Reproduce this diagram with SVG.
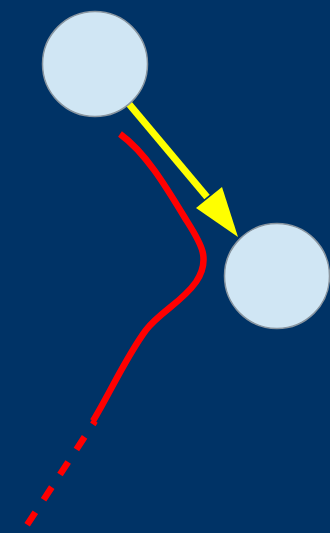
<svg xmlns="http://www.w3.org/2000/svg" width="330" height="533" viewBox="0 0 330 533">
  <style>
    .node { fill: #d0e6f4; stroke: #8a96a0; stroke-width: 1.5; }
    .red { fill: none; stroke: #ff0000; stroke-width: 6.5; }
  </style>
  <rect width="330" height="533" fill="#003366"/>
  <g id="connectors">
    <line x1="129" y1="104" x2="207" y2="197" stroke="#ffff00" stroke-width="7"/>
    <polygon points="238,237 196,208 222,187" fill="#ffff00"/>
    <path class="red" d="M120,134 C145,152 165,185 185,218 C200,242 212,258 196,282 C182,302 160,312 146,330 C126,357 110,393 93,421"/>
    <path class="red" d="M95,421 L27,525" stroke-dasharray="15 15" stroke-dashoffset="11"/>
  </g>
  <g id="node1"><circle class="node" cx="95" cy="64" r="52.5"/></g>
  <g id="node2"><circle class="node" cx="277" cy="276" r="52.5"/></g>
</svg>
